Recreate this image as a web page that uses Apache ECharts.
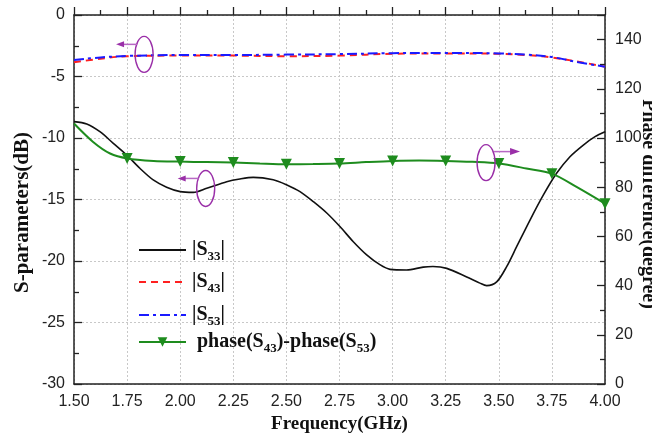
<!DOCTYPE html>
<html>
<head>
<meta charset="utf-8">
<script src="https://cdn.jsdelivr.net/npm/echarts@6/dist/echarts.min.js"></script>
<style>html,body{margin:0;padding:0;background:#fff;}#c{width:652px;height:437px;}</style>
</head>
<body>
<div id="c"></div>
<script>
// ---- data ----
const xTicks = [1.50, 1.75, 2.00, 2.25, 2.50, 2.75, 3.00, 3.25, 3.50, 3.75, 4.00];
const s33Freq = [1.50, 1.56, 1.622, 1.685, 1.748, 1.81, 1.873, 1.936, 2.00, 2.062, 2.125, 2.219, 2.281, 2.344, 2.438, 2.50, 2.564, 2.627, 2.69, 2.752, 2.815, 2.878, 2.94, 2.988, 3.066, 3.144, 3.19, 3.255, 3.349, 3.411, 3.443, 3.49, 3.537, 3.584, 3.647, 3.71, 3.772, 3.835, 3.898, 3.953, 4.00];
const s33Vals = [-8.67, -8.86, -9.49, -10.43, -11.38, -12.46, -13.41, -14.0, -14.36, -14.42, -14.09, -13.55, -13.33, -13.2, -13.4, -13.8, -14.36, -15.18, -16.1, -17.2, -18.43, -19.5, -20.3, -20.68, -20.73, -20.5, -20.45, -20.6, -21.3, -21.8, -22.0, -21.7, -20.46, -18.84, -16.67, -14.63, -12.87, -11.52, -10.57, -9.89, -9.49];
const sFreq = [1.50, 1.625, 1.75, 2.00, 2.25, 2.50, 2.75, 3.00, 3.25, 3.50, 3.625, 3.75, 3.875, 4.00];
const s43Vals = [-3.85, -3.55, -3.35, -3.30, -3.30, -3.35, -3.30, -3.15, -3.12, -3.15, -3.25, -3.45, -3.80, -4.20];
const s53Vals = [-3.65, -3.45, -3.33, -3.25, -3.25, -3.22, -3.18, -3.10, -3.08, -3.12, -3.22, -3.42, -3.85, -4.20];
const phaseFreq = [1.50, 1.59, 1.67, 1.75, 1.875, 2.00, 2.125, 2.25, 2.375, 2.50, 2.625, 2.75, 2.875, 3.00, 3.125, 3.25, 3.375, 3.50, 3.63, 3.75, 3.866, 4.00];
const phaseVals = [105.9, 98.4, 93.7, 91.7, 90.7, 90.4, 90.2, 90.0, 89.6, 89.3, 89.4, 89.6, 90.2, 90.7, 90.9, 90.7, 90.3, 89.6, 87.6, 85.5, 80.1, 73.3];
const phaseMarkerFreq = [1.75, 2.00, 2.25, 2.50, 2.75, 3.00, 3.25, 3.50, 3.75, 4.00];
// annotation anchors: [freq, value, axisIndex, arrow direction]
const annotations = [[1.83, -3.2, 0, 'left'], [2.12, -14.1, 0, 'left'], [3.44, 90, 1, 'right']];

const names = ['|S33|', '|S43|', '|S53|', 'phase(S43)-phase(S53)'];
const legendRich = {
  '|S33|': '{t||S}{s|33}{t||}',
  '|S43|': '{t||S}{s|43}{t||}',
  '|S53|': '{t||S}{s|53}{t||}',
  'phase(S43)-phase(S53)': '{t|phase(S}{s|43}{t|)-phase(S}{s|53}{t|)}'
};

const serif = "'Liberation Serif','DejaVu Serif',serif";
const sans = "'Liberation Sans',Arial,sans-serif";
const zip = (a, b) => a.map((v, i) => [v, b[i]]);

const chart = echarts.init(document.getElementById('c'), null, {renderer: 'canvas'});

const legendTops = [237, 269, 302, 329];
const legends = names.map((n, i) => ({
  data: [n],
  left: 138,
  top: legendTops[i],
  padding: 0,
  itemWidth: 47,
  itemHeight: 12,
  itemGap: 0,
  selectedMode: false,
  itemStyle: i < 3 ? {opacity: 0} : {},
  formatter: (name) => legendRich[name],
  textStyle: {
    padding: [0, 0, 0, i === 3 ? 6 : 1],
    rich: {
      t: {fontFamily: serif, fontWeight: 'bold', fontSize: 20, color: '#111', lineHeight: 24},
      s: {fontFamily: serif, fontWeight: 'bold', fontSize: 13, color: '#111', lineHeight: 24, padding: [13, 0, 0, 0]}
    }
  }
}));

const phaseData = phaseFreq.map((f, i) => {
  const m = phaseMarkerFreq.indexOf(f) >= 0;
  return {value: [f, phaseVals[i]], symbolSize: m ? 11 : 0};
});

const option = {
  animation: false,
  backgroundColor: '#fff',
  legend: legends,
  grid: {left: 74, right: 47, top: 15, bottom: 53, containLabel: false, outerBoundsMode: 'none'},
  xAxis: [{
    type: 'value', min: 1.5, max: 4.0, interval: 0.25,
    name: 'Frequency(GHz)', nameLocation: 'middle', nameGap: 31,
    nameTextStyle: {fontFamily: serif, fontWeight: 'bold', fontSize: 19, color: '#111'},
    axisLine: {show: true, lineStyle: {color: '#222', width: 1.5}},
    axisTick: {inside: true, length: 8, lineStyle: {color: '#222', width: 1.3}},
    minorTick: {show: true, splitNumber: 2, length: 5, lineStyle: {color: '#222', width: 1.3}},
    axisLabel: {margin: 10, fontFamily: sans, fontSize: 16, color: '#222', formatter: v => v.toFixed(2)},
    splitLine: {show: true, lineStyle: {color: '#c8c8c8', type: [2, 2], width: 1}}
  }, {
    type: 'value', position: 'top', min: 1.5, max: 4.0,
    axisLine: {show: true, lineStyle: {color: '#222', width: 1.5}},
    axisTick: {show: false}, axisLabel: {show: false}, splitLine: {show: false}
  }],
  yAxis: [{
    type: 'value', min: -30, max: 0, interval: 5,
    name: 'S-parameters(dB)', nameLocation: 'middle', nameGap: 41, nameMoveOverlap: false,
    nameTextStyle: {fontFamily: serif, fontWeight: 'bold', fontSize: 21, color: '#111', padding: [0, 26, 0, 0]},
    axisLine: {show: true, lineStyle: {color: '#222', width: 1.5}},
    axisTick: {inside: true, length: 8, lineStyle: {color: '#222', width: 1.3}},
    minorTick: {show: true, splitNumber: 2, length: 5, lineStyle: {color: '#222', width: 1.3}},
    axisLabel: {margin: 9, fontFamily: sans, fontSize: 16, color: '#222'},
    splitLine: {show: true, lineStyle: {color: '#c8c8c8', type: [2, 2], width: 1}}
  }, {
    type: 'value', min: 0, max: 150, interval: 20, position: 'right',
    name: 'Phase difference(degree)', nameLocation: 'middle', nameGap: 33, nameRotate: -90, nameMoveOverlap: false,
    nameTextStyle: {fontFamily: serif, fontWeight: 'bold', fontSize: 20, color: '#111', padding: [0, 0, 0, 9]},
    axisLine: {show: true, lineStyle: {color: '#222', width: 1.5}},
    axisTick: {inside: true, length: 8, lineStyle: {color: '#222', width: 1.3}},
    minorTick: {show: true, splitNumber: 2, length: 5, lineStyle: {color: '#222', width: 1.3}},
    axisLabel: {margin: 10, fontFamily: sans, fontSize: 16, color: '#222', formatter: v => (v > 140 ? '' : String(v))},
    splitLine: {show: false}
  }],
  series: [{
    name: names[0], type: 'line', xAxisIndex: 0, yAxisIndex: 0,
    data: zip(s33Freq, s33Vals), smooth: 0.3, symbol: 'none',
    lineStyle: {color: '#111', width: 1.6}, itemStyle: {color: '#111'}, z: 3
  }, {
    name: names[1], type: 'line', xAxisIndex: 0, yAxisIndex: 0,
    data: zip(sFreq, s43Vals), smooth: 0.35, symbol: 'none',
    lineStyle: {color: '#ff2020', width: 2, type: [7, 5]}, itemStyle: {color: '#ff2020'}, z: 4
  }, {
    name: names[2], type: 'line', xAxisIndex: 0, yAxisIndex: 0,
    data: zip(sFreq, s53Vals), smooth: 0.35, symbol: 'none',
    lineStyle: {color: '#1a1aff', width: 2, type: [10, 4, 3, 4]}, itemStyle: {color: '#1a1aff'}, z: 5
  }, {
    name: names[3], type: 'line', xAxisIndex: 0, yAxisIndex: 1,
    data: phaseData, smooth: 0.3, symbol: 'triangle', symbolRotate: 180, symbolSize: 11,
    showAllSymbol: true,
    lineStyle: {color: '#1e8c1e', width: 2}, itemStyle: {color: '#1e8c1e'}, z: 6
  }]
};
chart.setOption(option);

// annotations: ellipses with arrows, anchored through the axes
const purple = '#9a2fa8';
const arrowCol = '#b868c4';
const graphics = [];
annotations.forEach(a => {
  const p = chart.convertToPixel({xAxisIndex: 0, yAxisIndex: a[2]}, [a[0], a[1]]);
  const cx = p[0], cy = p[1];
  graphics.push({type: 'ellipse', shape: {cx: cx, cy: cy, rx: 9, ry: 18}, style: {fill: 'none', stroke: purple, lineWidth: 1.4}, z: 10});
  if (a[3] === 'left') {
    const y = cy - 10;
    graphics.push({type: 'line', shape: {x1: cx - 7, y1: y, x2: cx - 22, y2: y}, style: {stroke: arrowCol, lineWidth: 1.5}, z: 10});
    graphics.push({type: 'polygon', shape: {points: [[cx - 28, y], [cx - 20, y - 3], [cx - 20, y + 3]]}, style: {fill: purple}, z: 10});
  } else {
    const y = cy - 11;
    graphics.push({type: 'line', shape: {x1: cx + 8, y1: y, x2: cx + 26, y2: y}, style: {stroke: arrowCol, lineWidth: 1.5}, z: 10});
    graphics.push({type: 'polygon', shape: {points: [[cx + 34, y], [cx + 24, y - 3.5], [cx + 24, y + 3.5]]}, style: {fill: purple}, z: 10});
  }
});
chart.setOption({graphic: graphics});
</script>
</body>
</html>
